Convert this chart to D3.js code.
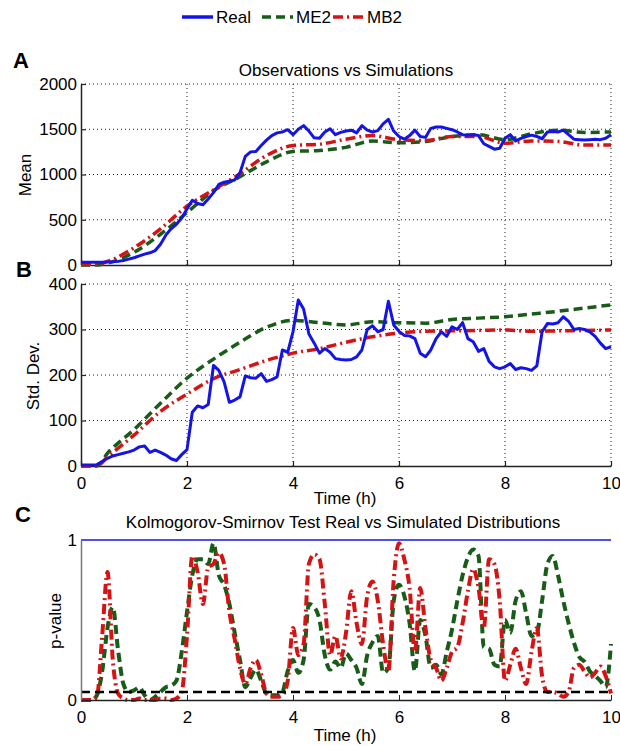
<!DOCTYPE html>
<html>
<head>
<meta charset="utf-8">
<script src="https://cdn.jsdelivr.net/npm/d3@7"></script>
<style>
  body { margin: 0; background: #fff; }
  text { font-family: "Liberation Sans", Arial, sans-serif; fill: #000; }
</style>
</head>
<body>
<svg width="620" height="746"></svg>
<script>
// ---- data ----
var timeSteps = d3.range(101).map(function (i) { return i / 10; });   // 0 .. 10 h, step 0.1
var modelTime = [0, 0.3, 0.5, 1, 1.5, 2, 2.5, 3, 3.5, 4, 4.5, 5, 5.5, 6, 6.5, 7, 7.5, 8, 8.5, 9, 9.5, 10];

var realMean = [30, 30, 30, 30, 30, 32, 35, 40, 50, 65,
  80, 100, 120, 135, 160, 230, 330, 400, 450, 520,
  620, 715, 680, 665, 730, 800, 890, 915, 925, 940,
  1020, 1200, 1250, 1255, 1320, 1380, 1430, 1460, 1470, 1495,
  1440, 1500, 1540, 1480, 1405, 1400, 1470, 1505, 1440, 1465,
  1480, 1490, 1460, 1540, 1490, 1470, 1485, 1560, 1610, 1480,
  1420, 1390, 1430, 1490, 1420, 1410, 1510, 1525, 1525, 1510,
  1495, 1470, 1440, 1435, 1440, 1430, 1340, 1310, 1280, 1290,
  1400, 1440, 1370, 1400, 1420, 1435, 1420, 1395, 1470, 1475,
  1470, 1490, 1440, 1390, 1385, 1380, 1385, 1390, 1385, 1400, 1440];
var me2Mean = [0, 0, 20, 140, 340, 580, 820, 975, 1140, 1255, 1265, 1300, 1370, 1350, 1365, 1420, 1440, 1385, 1450, 1490, 1465, 1470];
var mb2Mean = [10, 10, 40, 190, 400, 650, 830, 1010, 1210, 1320, 1335, 1390, 1430, 1385, 1375, 1420, 1420, 1345, 1370, 1365, 1325, 1325];

var realStd = [2, 2, 2, 3, 10, 17, 22, 25, 28, 31,
  35, 42, 44, 30, 35, 30, 24, 16, 12, 25,
  36, 118, 132, 128, 135, 221, 210, 185, 140, 145,
  152, 198, 194, 193, 203, 186, 190, 196, 255, 250,
  295, 365, 345, 290, 270, 248, 258, 250, 236, 234,
  233, 234, 240, 255, 300, 308, 295, 300, 362, 310,
  296, 287, 286, 280, 248, 240, 255, 280, 295, 285,
  306, 300, 315, 280, 273, 252, 258, 230, 218, 214,
  218, 225, 212, 216, 214, 210, 220, 295, 313, 312,
  315, 328, 318, 300, 302, 300, 295, 285, 270, 258, 262];
var me2Std = [0, 0, 28, 80, 138, 193, 235, 272, 305, 320, 315, 310, 317, 315, 314, 322, 325, 328, 334, 340, 347, 354];
var mb2Std = [0, 0, 20, 68, 120, 158, 192, 212, 232, 248, 258, 272, 284, 292, 296, 297, 298, 299, 296, 297, 298, 299];

var me2P = [0, 0, 0, 0.03, 0.18, 0.45, 0.58, 0.31, 0.10, 0.05,
  0.06, 0.08, 0.03, 0, 0.02, 0.05, 0.08, 0.09, 0.12, 0.30,
  0.55, 0.78, 0.88, 0.88, 0.85, 0.98, 0.78, 0.72, 0.60, 0.42,
  0.25, 0.08, 0.14, 0.19, 0.12, 0.04, 0.03, 0.03, 0.05, 0.18,
  0.25, 0.17, 0.25, 0.60, 0.58, 0.50, 0.28, 0.19, 0.24, 0.20,
  0.29, 0.25, 0.20, 0.10, 0.28, 0.36, 0.40, 0.17, 0.20, 0.62,
  0.72, 0.65, 0.48, 0.18, 0.50, 0.40, 0.20, 0.22, 0.16, 0.30,
  0.44, 0.62, 0.78, 0.89, 0.94, 0.90, 0.33, 0.32, 0.22, 0.21,
  0.50, 0.42, 0.62, 0.68, 0.54, 0.40, 0.42, 0.62, 0.85, 0.90,
  0.78, 0.62, 0.48, 0.36, 0.27, 0.24, 0.18, 0.15, 0.12, 0.08, 0.35];
var mb2P = [0, 0, 0, 0.02, 0.40, 0.80, 0.25, 0.04, 0.01, 0,
  0, 0.01, 0, 0, 0, 0.01, 0.01, 0, 0.01, 0.05,
  0.40, 0.90, 0.80, 0.60, 0.83, 0.85, 0.92, 0.85, 0.55, 0.38,
  0.20, 0.10, 0.20, 0.25, 0.16, 0.04, 0.02, 0.02, 0.03, 0.12,
  0.45, 0.28, 0.35, 0.85, 0.91, 0.88, 0.60, 0.28, 0.40, 0.26,
  0.42, 0.68, 0.48, 0.35, 0.65, 0.74, 0.62, 0.35, 0.18, 0.75,
  0.98, 0.88, 0.70, 0.30, 0.70, 0.45, 0.25, 0.20, 0.12, 0.20,
  0.30, 0.33, 0.48, 0.68, 0.82, 0.70, 0.45, 0.88, 0.85, 0.62,
  0.12, 0.22, 0.32, 0.20, 0.10, 0.30, 0.45, 0.15, 0.05, 0.05,
  0.04, 0.02, 0.05, 0.20, 0.22, 0.18, 0.14, 0.17, 0.21, 0.15, 0.04];

var pThreshold = 0.05;
var xTicks = [0, 2, 4, 6, 8, 10];
var meanTicks = [0, 500, 1000, 1500, 2000];
var stdTicks = [0, 100, 200, 300, 400];
var pTicks = [0, 1];
var seriesNames = ["Real", "ME2", "MB2"];

// ---- styles ----
var colors = { Real: "#1414e6", ME2: "#185c18", MB2: "#d41414" };
var dashes = { Real: null, ME2: "9,5", MB2: "10,4,2,4" };

var svg = d3.select("svg");

var x = d3.scaleLinear().domain([0, 10]).range([81, 611]);
var yMean = d3.scaleLinear().domain([0, 2000]).range([265, 84]);
var yStd = d3.scaleLinear().domain([0, 400]).range([466, 284]);
var yP = d3.scaleLinear().domain([0, 1]).range([700, 540]);

function gridPanel(y, yTickVals, showXLabels) {
    var g = svg.append("g");
    // dotted grid
    g.selectAll(".gx").data(xTicks.slice(1)).enter().append("line")
        .attr("x1", function (d) { return x(d); }).attr("x2", function (d) { return x(d); })
        .attr("y1", y.range()[0]).attr("y2", y.range()[1])
        .attr("stroke", "#222").attr("stroke-width", 1).attr("stroke-dasharray", "1,3");
    g.selectAll(".gy").data(yTickVals.slice(1)).enter().append("line")
        .attr("x1", x(0)).attr("x2", x(10))
        .attr("y1", function (d) { return y(d); }).attr("y2", function (d) { return y(d); })
        .attr("stroke", "#222").attr("stroke-width", 1).attr("stroke-dasharray", "1,3");

    var ax = g.append("g").attr("transform", "translate(0," + y.range()[0] + ")")
        .call(d3.axisBottom(x).tickValues(xTicks).tickSizeInner(-5).tickSizeOuter(0)
            .tickFormat(showXLabels ? d3.format("d") : ""));
    var ay = g.append("g").attr("transform", "translate(" + x(0) + ",0)")
        .call(d3.axisLeft(y).tickValues(yTickVals).tickSizeInner(-5).tickSizeOuter(0).tickFormat(d3.format("d")));
    [ax, ay].forEach(function (a) {
        a.select(".domain").attr("stroke", "#222").attr("stroke-width", 1.5);
        a.selectAll(".tick line").attr("stroke", "#222").attr("stroke-width", 1.2);
        a.selectAll("text").attr("font-size", 17).attr("font-family", "Liberation Sans, Arial, sans-serif").attr("fill", "#111");
    });
    ax.selectAll("text").attr("dy", "1.2em");
    ay.selectAll("text").attr("x", -4);
    return g;
}

function drawLine(g, xs, ys, yScale, name, width, curve) {
    var line = d3.line()
        .x(function (d, i) { return x(xs[i]); })
        .y(function (d) { return yScale(d); })
        .curve(curve || d3.curveLinear);
    g.append("path").datum(ys)
        .attr("d", line)
        .attr("fill", "none")
        .attr("stroke", colors[name])
        .attr("stroke-width", width)
        .attr("stroke-dasharray", dashes[name])
        .attr("stroke-linejoin", "round");
}

// panel A
var gA = gridPanel(yMean, meanTicks, false);
drawLine(gA, modelTime, me2Mean, yMean, "ME2", 3.5, d3.curveMonotoneX);
drawLine(gA, modelTime, mb2Mean, yMean, "MB2", 3.5, d3.curveMonotoneX);
drawLine(gA, timeSteps, realMean, yMean, "Real", 3);

// panel B
var gB = gridPanel(yStd, stdTicks, true);
drawLine(gB, modelTime, me2Std, yStd, "ME2", 3.5, d3.curveMonotoneX);
drawLine(gB, modelTime, mb2Std, yStd, "MB2", 3.5, d3.curveMonotoneX);
drawLine(gB, timeSteps, realStd, yStd, "Real", 3);

// panel C
var gC = svg.append("g");
gC.append("line").attr("x1", x(0)).attr("x2", x(10)).attr("y1", yP(1)).attr("y2", yP(1))
    .attr("stroke", colors.Real).attr("stroke-width", 1.5);
drawLine(gC, timeSteps, me2P, yP, "ME2", 4, d3.curveMonotoneX);
drawLine(gC, timeSteps, mb2P, yP, "MB2", 4, d3.curveMonotoneX);
gC.append("line").attr("x1", x(0)).attr("x2", x(10)).attr("y1", yP(pThreshold)).attr("y2", yP(pThreshold))
    .attr("stroke", "#000").attr("stroke-width", 2.5).attr("stroke-dasharray", "9,5");
var axC = gC.append("g").attr("transform", "translate(0," + yP(0) + ")")
    .call(d3.axisBottom(x).tickValues(xTicks).tickSizeInner(-5).tickSizeOuter(0).tickFormat(d3.format("d")));
var ayC = gC.append("g").attr("transform", "translate(" + x(0) + ",0)")
    .call(d3.axisLeft(yP).tickValues(pTicks).tickSize(0).tickFormat(d3.format("d")));
axC.select(".domain").attr("stroke", "#222").attr("stroke-width", 1.5);
ayC.select(".domain").attr("stroke", "#777").attr("stroke-width", 1.5);
axC.selectAll(".tick line").attr("stroke", "#222");
[axC, ayC].forEach(function (a) {
    a.selectAll("text").attr("font-size", 17).attr("font-family", "Liberation Sans, Arial, sans-serif").attr("fill", "#111");
});
axC.selectAll("text").attr("dy", "1.2em");
ayC.selectAll("text").attr("x", -4);

// titles and labels
svg.append("text").attr("x", 346).attr("y", 76).attr("text-anchor", "middle").attr("font-size", 17)
    .text("Observations vs Simulations");
svg.append("text").attr("x", 343).attr("y", 528).attr("text-anchor", "middle").attr("font-size", 17)
    .text("Kolmogorov-Smirnov Test Real vs Simulated Distributions");
svg.append("text").attr("x", 345).attr("y", 504).attr("text-anchor", "middle").attr("font-size", 17).text("Time (h)");
svg.append("text").attr("x", 345).attr("y", 741).attr("text-anchor", "middle").attr("font-size", 17).text("Time (h)");

function yLabel(txt, cx, cy) {
    svg.append("text").attr("transform", "translate(" + cx + "," + cy + ") rotate(-90)")
        .attr("text-anchor", "middle").attr("dy", "0.35em").attr("font-size", 17).text(txt);
}
yLabel("Mean", 25, 175);
yLabel("Std. Dev.", 33, 376);
yLabel("p-value", 55, 621);

[["A", 13, 68], ["B", 16, 277], ["C", 15, 522]].forEach(function (p) {
    svg.append("text").attr("x", p[1]).attr("y", p[2]).attr("font-size", 22).attr("font-weight", "bold").text(p[0]);
});

// legend
var legendX = [182, 262, 333];
var leg = svg.append("g");
seriesNames.forEach(function (name, i) {
    leg.append("line").attr("x1", legendX[i]).attr("x2", legendX[i] + 31).attr("y1", 17).attr("y2", 17)
        .attr("stroke", colors[name]).attr("stroke-width", 3.5).attr("stroke-dasharray", dashes[name]);
    leg.append("text").attr("x", legendX[i] + 34).attr("y", 17).attr("dy", "0.35em").attr("font-size", 17).text(name);
});
</script>
</body>
</html>
